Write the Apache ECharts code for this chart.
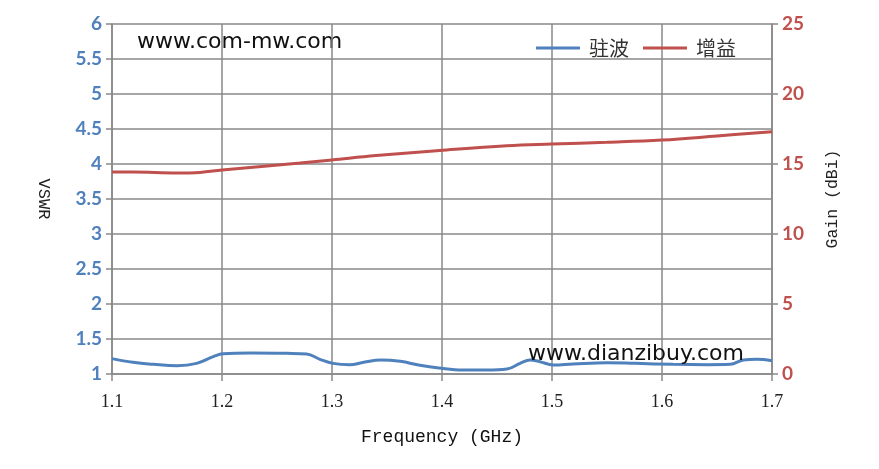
<!DOCTYPE html>
<html>
<head>
    <meta charset="utf-8">
    <title>驻波 / 增益</title>
    <script src="https://cdn.jsdelivr.net/npm/echarts@6/dist/echarts.min.js"></script>
    <style>
        html, body { margin: 0; padding: 0; background: #fff; }
        #chart { width: 879px; height: 469px; }
    </style>
</head>
<body>
<div id="chart"></div>
<script>
    // 驻波 (VSWR) 读图数据: [频率 GHz, VSWR]
    const vswrFreq = [1.1, 1.119, 1.138, 1.159, 1.177, 1.192, 1.201, 1.226, 1.259, 1.277, 1.289, 1.301,
        1.316, 1.329, 1.344, 1.362, 1.38, 1.397, 1.419, 1.441, 1.459, 1.471, 1.48, 1.489, 1.501,
        1.519, 1.55, 1.576, 1.61, 1.641, 1.662, 1.674, 1.686, 1.7];
    const vswrValue = [1.22, 1.167, 1.138, 1.119, 1.152, 1.248, 1.29, 1.3, 1.295, 1.286, 1.21, 1.152,
        1.133, 1.167, 1.2, 1.181, 1.124, 1.086, 1.057, 1.057, 1.071, 1.152, 1.2, 1.176, 1.129,
        1.143, 1.162, 1.152, 1.138, 1.133, 1.138, 1.2, 1.21, 1.19];

    // 增益 (Gain dBi) 读图数据
    const gainFreq = [1.1, 1.119, 1.159, 1.18, 1.2, 1.241, 1.271, 1.3, 1.34, 1.398, 1.459, 1.5,
        1.55, 1.6, 1.65, 1.7];
    const gainValue = [14.43, 14.43, 14.36, 14.4, 14.57, 14.86, 15.07, 15.29, 15.6, 15.97, 16.31, 16.43,
        16.55, 16.71, 17.0, 17.31];

    const blue = '#4F81BD';
    const red = '#C0504D';
    const gridGray = '#898989';

    const chart = echarts.init(document.getElementById('chart'));

    const option = {
        animation: false,
        grid: { left: 112, right: 107, top: 24, bottom: 95 },
        legend: {
            right: 138,
            top: 33,
            itemWidth: 44,
            itemHeight: 3,
            itemGap: 14,
            icon: 'rect',
            textStyle: { fontFamily: 'Noto Sans CJK SC', fontSize: 20, color: '#333', padding: [0, 0, 0, 4] },
            data: ['驻波', '增益']
        },
        graphic: [
            {
                type: 'text', left: 137, top: 31,
                style: { text: 'www.com-mw.com', font: '22px "DejaVu Sans"', fill: '#111' }
            },
            {
                type: 'text', left: 528, top: 343,
                style: { text: 'www.dianzibuy.com', font: '22px "DejaVu Sans"', fill: '#111' },
                z: 100
            }
        ],
        xAxis: {
            type: 'value',
            min: 1.1,
            max: 1.7,
            interval: 0.1,
            name: 'Frequency (GHz)',
            nameLocation: 'middle',
            nameGap: 54,
            nameTextStyle: { fontFamily: 'Liberation Mono', fontSize: 18, color: '#111' },
            axisLine: { lineStyle: { color: gridGray, width: 1.5 } },
            axisTick: { show: true, length: 7, lineStyle: { color: gridGray, width: 1.5 } },
            axisLabel: {
                fontFamily: 'Liberation Serif', fontSize: 18, color: '#222', margin: 19,
                formatter: v => v.toFixed(1)
            },
            splitLine: { show: true, lineStyle: { color: gridGray, width: 1.5 } }
        },
        yAxis: [
            {
                type: 'value',
                min: 1,
                max: 6,
                interval: 0.5,
                name: 'VSWR',
                nameLocation: 'middle',
                nameRotate: -90,
                nameGap: 60,
                nameTextStyle: { fontFamily: 'Liberation Mono', fontSize: 17, color: '#222' },
                axisLine: { show: true, lineStyle: { color: gridGray, width: 1.5 } },
                axisTick: { show: true, length: 6, lineStyle: { color: gridGray, width: 1.5 } },
                axisLabel: {
                    fontFamily: 'Lato', fontWeight: 'bold', fontSize: 19, color: blue, margin: 10
                },
                splitLine: { show: true, lineStyle: { color: gridGray, width: 1.5 } }
            },
            {
                type: 'value',
                min: 0,
                max: 25,
                interval: 5,
                name: 'Gain (dBi)',
                nameLocation: 'middle',
                nameRotate: 90,
                nameGap: 52,
                nameTextStyle: { fontFamily: 'Liberation Mono', fontSize: 16.5, color: '#222' },
                axisLine: { show: true, lineStyle: { color: gridGray, width: 1.5 } },
                axisTick: { show: true, length: 6, lineStyle: { color: gridGray, width: 1.5 } },
                axisLabel: {
                    fontFamily: 'Lato', fontWeight: 'bold', fontSize: 19, color: red, margin: 10
                },
                splitLine: { show: false }
            }
        ],
        series: [
            {
                name: '驻波',
                type: 'line',
                yAxisIndex: 0,
                smooth: 0.4,
                symbol: 'none',
                data: vswrFreq.map((f, i) => [f, vswrValue[i]]),
                lineStyle: { color: blue, width: 3 },
                itemStyle: { color: blue }
            },
            {
                name: '增益',
                type: 'line',
                yAxisIndex: 1,
                smooth: 0.4,
                symbol: 'none',
                data: gainFreq.map((f, i) => [f, gainValue[i]]),
                lineStyle: { color: red, width: 3 },
                itemStyle: { color: red }
            }
        ]
    };

    chart.setOption(option);
</script>
</body>
</html>
